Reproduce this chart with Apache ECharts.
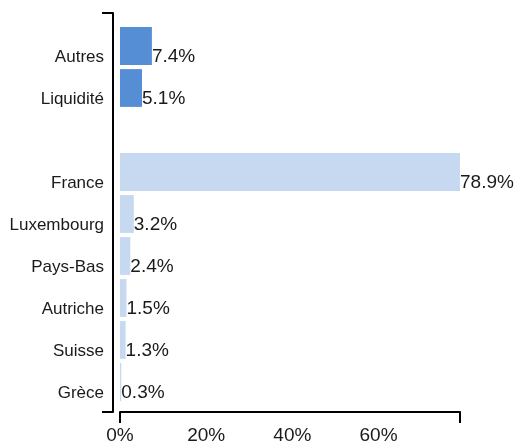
<!DOCTYPE html>
<html>
<head>
<meta charset="utf-8">
<script src="https://cdn.jsdelivr.net/npm/echarts@6/dist/echarts.min.js"></script>
<style>html,body{margin:0;padding:0;background:#fff}#c{width:518px;height:448px}</style>
</head>
<body>
<div id="c"></div>
<script>
const categories = ['Autres', 'Liquidité', '', 'France', 'Luxembourg', 'Pays-Bas', 'Autriche', 'Suisse', 'Grèce'];
const otherValues = [7.4, 5.1, '-', '-', '-', '-', '-', '-', '-'];
const countryValues = ['-', '-', '-', 78.9, 3.2, 2.4, 1.5, 1.3, 0.3];
const xMax = 78.9;
const xInterval = 20;

const FONT = 'Liberation Sans';
const chart = echarts.init(document.getElementById('c'), null, {renderer: 'canvas'});
const dataLabel = {
  show: true, position: 'right', distance: 0, offset: [0, 11],
  formatter: p => p.value.toFixed(1) + '%',
  color: '#1a1a1a', fontFamily: FONT, fontSize: 19
};
chart.setOption({
  animation: false,
  grid: [
    {left: 120, width: 340, top: 25, height: 378},
    {left: 120, width: 340, top: 13, height: 399}
  ],
  xAxis: [
    {gridIndex: 0, type: 'value', min: 0, max: xMax, show: false},
    {gridIndex: 1, type: 'value', position: 'bottom', min: 0, max: xMax, interval: xInterval,
     axisLine: {show: true, onZero: false, lineStyle: {color: '#000', width: 2}},
     axisTick: {show: false}, splitLine: {show: false},
     axisLabel: {showMaxLabel: false, margin: 14, formatter: '{value}%', color: '#1a1a1a', fontFamily: FONT, fontSize: 19}},
    {gridIndex: 1, type: 'value', position: 'bottom', min: 0, max: xMax, interval: xMax,
     axisLine: {show: false, onZero: false}, splitLine: {show: false}, axisLabel: {show: false},
     axisTick: {show: true, length: 11, lineStyle: {color: '#000', width: 2}}}
  ],
  yAxis: [
    {gridIndex: 0, type: 'category', data: categories, inverse: true,
     axisLine: {show: false}, axisTick: {show: false},
     axisLabel: {margin: 16, verticalAlign: 'top', lineHeight: 22, color: '#1a1a1a', fontFamily: FONT, fontSize: 17}},
    {gridIndex: 1, type: 'value', position: 'left', min: 0, max: 1, interval: 1, offset: 7,
     axisLine: {show: true, onZero: false, lineStyle: {color: '#000', width: 2}},
     axisTick: {show: true, length: 11, lineStyle: {color: '#000', width: 2}},
     axisLabel: {show: false}, splitLine: {show: false}}
  ],
  series: [
    {type: 'bar', xAxisIndex: 0, yAxisIndex: 0, stack: 's', data: otherValues,
     barCategoryGap: '10%', itemStyle: {color: '#558ED5'}, label: dataLabel},
    {type: 'bar', xAxisIndex: 0, yAxisIndex: 0, stack: 's', data: countryValues,
     barCategoryGap: '10%', itemStyle: {color: '#C6D9F1'}, label: dataLabel}
  ]
});
</script>
</body>
</html>
